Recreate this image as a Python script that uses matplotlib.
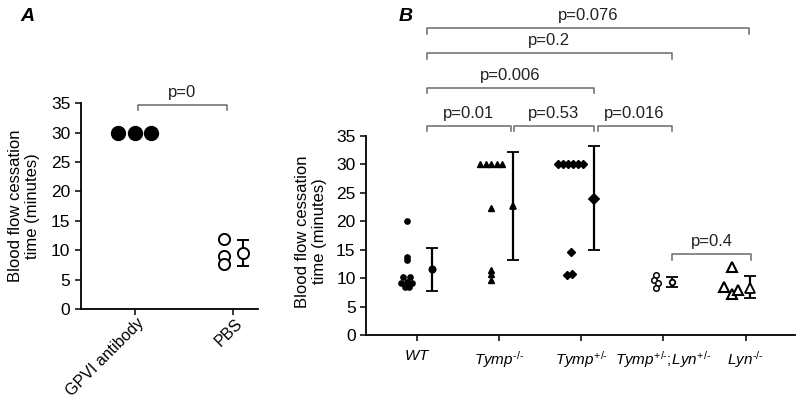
import matplotlib
matplotlib.use("Agg")
import matplotlib.pyplot as plt
import matplotlib.transforms as mtransforms

plt.rcParams["font.family"] = ["Liberation Sans", "DejaVu Sans"]
plt.rcParams["font.size"] = 12
plt.rcParams["mathtext.fontset"] = "custom"
plt.rcParams["mathtext.it"] = "Liberation Sans:italic"
plt.rcParams["mathtext.rm"] = "Liberation Sans"

# ---- panel A data ----
a_groups = ["GPVI antibody", "PBS"]
a_gpvi = [30, 30, 30]
a_gpvi_dx = [-0.17, 0.0, 0.17]
a_pbs = [12.0, 9.0, 7.7]
a_pbs_mean, a_pbs_lo, a_pbs_hi = 9.6, 7.3, 11.8

# ---- panel B data ----
H = "\u2010"  # hyphen, so mathtext does not turn it into a wide minus
b_groups = ["WT", "Tymp-/-", "Tymp+/-", "Tymp+/-;Lyn+/-", "Lyn-/-"]
b_labels = [r"$\mathit{WT}$",
            r"$\mathit{Tymp}^{\mathit{%s/%s}}$" % (H, H),
            r"$\mathit{Tymp}^{\mathit{+/%s}}$" % H,
            r"$\mathit{Tymp}^{\mathit{+/%s}}\mathit{;\!Lyn}^{\mathit{+/%s}}$" % (H, H),
            r"$\mathit{Lyn}^{\mathit{%s/%s}}$" % (H, H)]
wt_y = [20, 13.8, 13.2, 10.2, 10.2, 9.1, 9.3, 9.1, 8.4, 8.5]
wt_dx = [-0.12, -0.12, -0.12, -0.17, -0.08, -0.19, -0.12, -0.06, -0.15, -0.10]
tko_y = [30, 30, 30, 30, 30, 22.3, 11.4, 10.7, 9.6]
tko_dx = [-0.23, -0.16, -0.10, -0.03, 0.03, -0.10, -0.10, -0.10, -0.10]
thet_y = [30, 30, 30, 30, 30, 30, 14.6, 10.5, 10.8]
thet_dx = [-0.28, -0.22, -0.16, -0.10, -0.04, 0.02, -0.13, -0.17, -0.11]
dbl_y = [10.5, 9.6, 9.1, 8.2]
dbl_dx = [-0.09, -0.12, -0.07, -0.09]
lyn_y = [11.9, 8.4, 7.2, 7.9]
lyn_dx = [-0.16, -0.26, -0.16, -0.09]

b_mean = [11.6, 22.6, 24.0, 9.3, 8.3]
b_lo = [7.7, 13.2, 14.9, 8.4, 6.5]
b_hi = [15.3, 32.1, 33.2, 10.2, 10.4]
b_mean_dx = [0.18, 0.17, 0.16, 0.10, 0.06]

# brackets: (x_start, x_end, y, label)
b_brackets = [
    (0.12, 4.04, 54.0, "p=0.076"),
    (0.12, 3.10, 49.6, "p=0.2"),
    (0.12, 2.15, 43.5, "p=0.006"),
    (0.12, 1.14, 36.8, "p=0.01"),
    (1.18, 2.15, 36.8, "p=0.53"),
    (2.20, 3.10, 36.8, "p=0.016"),
    (3.10, 4.07, 14.2, "p=0.4"),
]

BR_COLOR = "#6a6a6a"


def style_axes(ax):
    for s in ["top", "right"]:
        ax.spines[s].set_visible(False)
    for s in ["left", "bottom"]:
        ax.spines[s].set_linewidth(1.3)
    ax.tick_params(direction="out", length=4, width=1.1, labelsize=12.5)
    ax.set_ylim(0, 35)
    ax.set_yticks(range(0, 36, 5))


def bracket(ax, x0, x1, y, text, tick=1.0, pad=0.9):
    ax.plot([x0, x0, x1, x1], [y - tick, y, y, y - tick], color=BR_COLOR,
            lw=1.1, clip_on=False)
    ax.text((x0 + x1) / 2, y + pad, text, ha="center", va="bottom",
            fontsize=12, color="#222222", clip_on=False)


fig = plt.figure(figsize=(8, 4.01), dpi=100)

# ---- panel A ----
axA = fig.add_axes([0.101, 0.229, 0.221, 0.514])
style_axes(axA)
axA.set_xlim(-0.551, 1.255)
axA.plot(a_gpvi_dx, a_gpvi, "o", color="black", ms=10)
axA.plot([1 - 0.09] * len(a_pbs), a_pbs, "o", mfc="white", mec="black",
         mew=1.4, ms=8)
axA.errorbar([1.11], [a_pbs_mean],
             yerr=[[a_pbs_mean - a_pbs_lo], [a_pbs_hi - a_pbs_mean]],
             fmt="o", mfc="white", mec="black", mew=1.4, ms=8, ecolor="black",
             elinewidth=1.5, capsize=4, capthick=1.5)
axA.set_xticks([0, 1])
axA.set_xticklabels(a_groups, rotation=45, ha="right", rotation_mode="anchor",
                    fontsize=11.5)
shift = mtransforms.ScaledTranslation(0.02, 0.04, fig.dpi_scale_trans)
for lab in axA.get_xticklabels():
    lab.set_transform(lab.get_transform() + shift)
axA.set_ylabel("Blood flow cessation\ntime (minutes)", fontsize=12)
axA.yaxis.set_label_coords(-0.23, 0.5)
bracket(axA, 0.03, 0.94, 34.6, "p=0", tick=0.7, pad=0.9)
fig.text(0.025, 0.96, "A", fontsize=14, fontweight="bold", style="italic",
         va="center")

# ---- panel B ----
axB = fig.add_axes([0.4575, 0.1646, 0.536, 0.4963])
style_axes(axB)
axB.set_xlim(-0.62, 4.6)

axB.plot([0 + d for d in wt_dx], wt_y, "o", color="black", ms=3.8)
axB.plot([1 + d for d in tko_dx], tko_y, "^", color="black", ms=4.3)
axB.plot([2 + d for d in thet_dx], thet_y, "D", color="black", ms=3.6)
axB.plot([3 + d for d in dbl_dx], dbl_y, "o", mfc="white", mec="black",
         mew=1.1, ms=4)
axB.plot([4 + d for d in lyn_dx], lyn_y, "^", mfc="white", mec="black",
         mew=1.5, ms=6.5)

mean_markers = ["o", "^", "D", "o", "^"]
mean_ms = [4.5, 5, 5.5, 4, 6.5]
mean_fill = ["black", "black", "black", "white", "white"]
for i in range(len(b_groups)):
    axB.errorbar([i + b_mean_dx[i]], [b_mean[i]],
                 yerr=[[b_mean[i] - b_lo[i]], [b_hi[i] - b_mean[i]]],
                 fmt=mean_markers[i], mfc=mean_fill[i], mec="black", mew=1.3,
                 ms=mean_ms[i], ecolor="black", elinewidth=1.6, capsize=4,
                 capthick=1.5)

axB.set_xticks(range(len(b_groups)))
axB.set_xticklabels(b_labels, fontsize=11)
axB.tick_params(axis="x", pad=6)
axB.set_ylabel("Blood flow cessation\ntime (minutes)", fontsize=12)
axB.yaxis.set_label_coords(-0.09, 0.52)
for x0, x1, y, t in b_brackets:
    bracket(axB, x0, x1, y, t)
fig.text(0.498, 0.96, "B", fontsize=14, fontweight="bold", style="italic",
         va="center")

fig.savefig("out.png", dpi=100)
